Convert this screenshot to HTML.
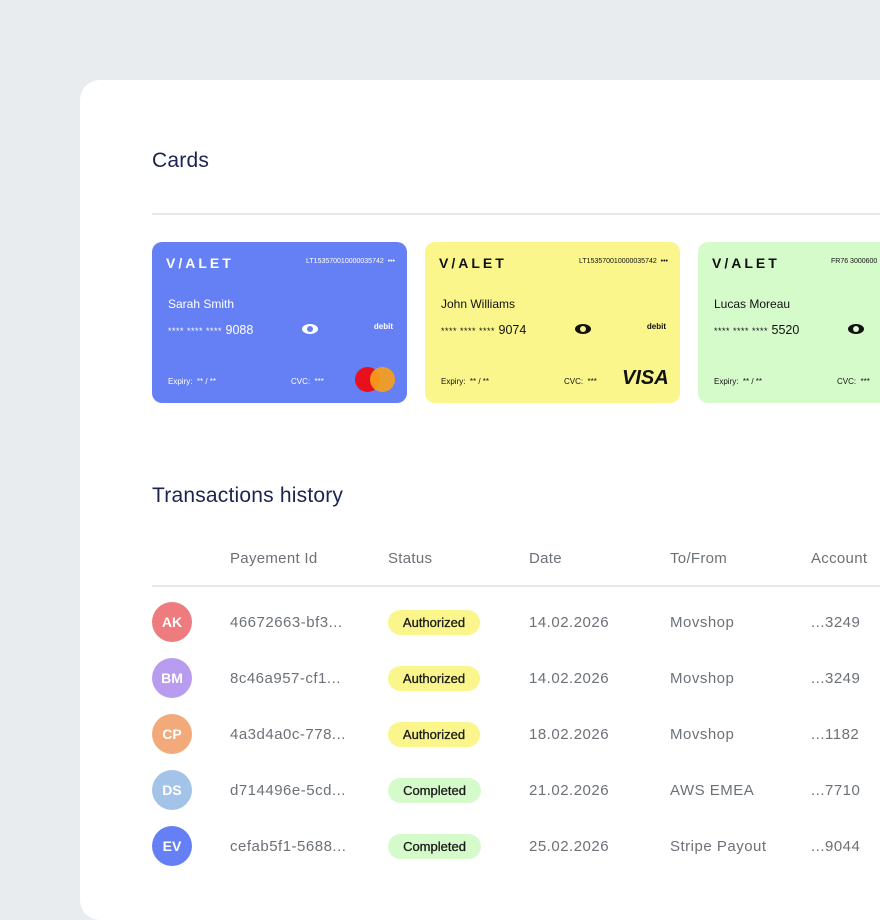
<!DOCTYPE html>
<html><head><style>
body{margin:0;width:880px;height:880px;background:#e9ecef;overflow:hidden;font-family:"Liberation Sans",sans-serif;position:relative}
.panel{position:absolute;left:80px;top:80px;width:840px;height:840px;background:#fff;border-radius:20px}
.h{position:absolute;font-size:21px;color:#1b2350;letter-spacing:.2px}
.hr{position:absolute;left:152px;width:728px;height:2px;background:#e5e7ea}
.card{position:absolute;top:242px;width:255px;height:161px;border-radius:10px}
.card div{position:absolute;white-space:nowrap}
.logo{left:14px;top:13px;font-size:14px;font-weight:bold;letter-spacing:3px}
.iban{right:12px;top:16px;font-size:7px}
.name{left:16px;top:55px;font-size:12px}
.num{left:16px;top:81px;font-size:12.5px}
.num small{font-size:9px;letter-spacing:.5px}
.eye{left:150px;top:82px;width:16px;height:10px;border-radius:50%;border:0}
.debit{right:14px;top:80px;font-size:8px;font-weight:bold}
.exp{left:16px;top:135px;font-size:8px}
.cvc{left:139px;top:135px;font-size:8px}
.th{position:absolute;top:550px;font-size:15px;color:#6b7177;letter-spacing:.3px}
.av{position:absolute;left:152px;width:40px;height:40px;border-radius:50%;color:#fff;font-size:14px;font-weight:bold;text-align:center;line-height:40px}
.c{position:absolute;font-size:15px;color:#6b7177;white-space:nowrap;letter-spacing:.5px}
.badge{position:absolute;left:388px;height:25px;line-height:25px;border-radius:13px;font-size:13px;color:#1a1a1a;text-align:center;-webkit-text-stroke:.3px #1a1a1a}
</style></head><body>
<div class="panel"></div>
<div class="h" style="left:152px;top:149px">Cards</div>
<div class="hr" style="top:213px"></div>

<div class="card" style="left:152px;background:#6580f5;color:#fff">
<div class="logo">V/ALET</div><div class="iban">LT153570010000035742 &nbsp;•••</div>
<div class="name">Sarah Smith</div><div class="num"><small>**** **** ****</small> 9088</div>
<div class="eye" style="background:#fff"><span style="position:absolute;left:5px;top:2px;width:6px;height:6px;border-radius:50%;background:#6580f5"></span></div>
<div class="debit">debit</div><div class="exp">Expiry: &nbsp;** / **</div><div class="cvc">CVC: &nbsp;***</div>
<div style="left:203px;top:125px;width:25px;height:25px;border-radius:50%;background:#e8101c"></div>
<div style="left:218px;top:125px;width:25px;height:25px;border-radius:50%;background:#f79e1b;opacity:.92"></div>
</div>

<div class="card" style="left:425px;background:#faf68b;color:#111">
<div class="logo">V/ALET</div><div class="iban">LT153570010000035742 &nbsp;•••</div>
<div class="name">John Williams</div><div class="num"><small>**** **** ****</small> 9074</div>
<div class="eye" style="background:#111"><span style="position:absolute;left:5px;top:2px;width:6px;height:6px;border-radius:50%;background:#faf68b"></span></div>
<div class="debit">debit</div><div class="exp">Expiry: &nbsp;** / **</div><div class="cvc">CVC: &nbsp;***</div>
<div style="left:197px;top:125px;font-size:20px;font-weight:bold;font-style:italic">VISA</div>
</div>

<div class="card" style="left:698px;background:#d6fbcb;color:#111">
<div class="logo">V/ALET</div><div style="left:133px;top:16px;font-size:7px">FR76 3000600</div>
<div class="name">Lucas Moreau</div><div class="num"><small>**** **** ****</small> 5520</div>
<div class="eye" style="background:#111"><span style="position:absolute;left:5px;top:2px;width:6px;height:6px;border-radius:50%;background:#d6fbcb"></span></div>
<div class="exp">Expiry: &nbsp;** / **</div><div class="cvc">CVC: &nbsp;***</div>
</div>

<div class="h" style="left:152px;top:484px">Transactions history</div>
<div class="th" style="left:230px">Payement Id</div>
<div class="th" style="left:388px">Status</div>
<div class="th" style="left:529px">Date</div>
<div class="th" style="left:670px">To/From</div>
<div class="th" style="left:811px">Account</div>
<div class="hr" style="top:585px"></div>

<div class="av" style="top:602px;background:#ee7b7d">AK</div>
<div class="c" style="left:230px;top:614px">46672663-bf3...</div>
<div class="badge" style="top:610px;width:92px;background:#faf68b">Authorized</div>
<div class="c" style="left:529px;top:614px">14.02.2026</div><div class="c" style="left:670px;top:614px">Movshop</div><div class="c" style="left:811px;top:614px">...3249</div>

<div class="av" style="top:658px;background:#b89cf0">BM</div>
<div class="c" style="left:230px;top:670px">8c46a957-cf1...</div>
<div class="badge" style="top:666px;width:92px;background:#faf68b">Authorized</div>
<div class="c" style="left:529px;top:670px">14.02.2026</div><div class="c" style="left:670px;top:670px">Movshop</div><div class="c" style="left:811px;top:670px">...3249</div>

<div class="av" style="top:714px;background:#f3aa7a">CP</div>
<div class="c" style="left:230px;top:726px">4a3d4a0c-778...</div>
<div class="badge" style="top:722px;width:92px;background:#faf68b">Authorized</div>
<div class="c" style="left:529px;top:726px">18.02.2026</div><div class="c" style="left:670px;top:726px">Movshop</div><div class="c" style="left:811px;top:726px">...1182</div>

<div class="av" style="top:770px;background:#a3c4e8">DS</div>
<div class="c" style="left:230px;top:782px">d714496e-5cd...</div>
<div class="badge" style="top:778px;width:93px;background:#d6fbcb">Completed</div>
<div class="c" style="left:529px;top:782px">21.02.2026</div><div class="c" style="left:670px;top:782px">AWS EMEA</div><div class="c" style="left:811px;top:782px">...7710</div>

<div class="av" style="top:826px;background:#6580f5">EV</div>
<div class="c" style="left:230px;top:838px">cefab5f1-5688...</div>
<div class="badge" style="top:834px;width:93px;background:#d6fbcb">Completed</div>
<div class="c" style="left:529px;top:838px">25.02.2026</div><div class="c" style="left:670px;top:838px">Stripe Payout</div><div class="c" style="left:811px;top:838px">...9044</div>
</body></html>
